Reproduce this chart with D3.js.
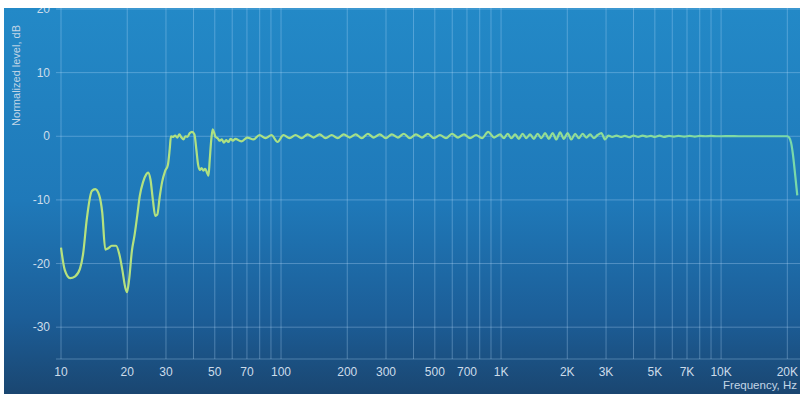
<!DOCTYPE html>
<html>
<head>
<meta charset="utf-8">
<script src="https://cdn.jsdelivr.net/npm/d3@7"></script>
<style>
  html, body { margin: 0; padding: 0; background: #fff; }
  svg { display: block; }
</style>
</head>
<body>
<div id="chart"></div>
<script>
// frequency response (Hz / dB)
const freqs = [
  10, 10.4, 11, 11.6, 12.2, 12.6, 13.1, 13.8, 14.3, 14.9, 15.4, 15.9, 16.4, 17.0, 17.8, 18.4, 19.0, 19.6, 19.95,
  20.4, 21.0, 21.6, 22.2, 22.8, 23.6, 24.4, 24.9, 25.5, 26.2, 26.8, 27.4, 28.1, 28.8, 29.7, 30.6, 31.2, 31.6,
  32.2, 33, 33.8, 34.5, 35.3, 36, 36.8, 37.5, 38.5, 39.4, 40.4, 41.2, 42, 42.8, 43.5, 44.4, 45.2, 46.2, 46.8,
  47.4, 48.2, 48.9, 49.6, 50.4, 51.5, 52.6, 53.8, 55, 56.3, 57.6, 59, 60.4,
  62, 66, 70.3, 74.9, 79.8, 85, 90.5, 96.4, 102.6, 109.3, 116.4, 124, 132, 140.6, 149.8, 159.5, 169.9, 180.9,
  192.7, 205.2, 218.5, 232.7, 247.9, 264, 281, 299.4, 318.8, 339.6, 361.6, 385.1, 410.2, 436.8, 465.2, 495.5,
  527.7, 562, 598.5, 637.4, 678.8, 723, 770, 820, 873, 930, 990,
  1030, 1071, 1114, 1159, 1205, 1253, 1303, 1355, 1410, 1466, 1525, 1586, 1649, 1715, 1784, 1855, 1929, 2006,
  2087, 2170, 2257, 2347, 2441, 2539, 2640, 2746, 2856, 2970,
  3075, 3200, 3350, 3500, 3650, 3820, 4000, 4200, 4400, 4600, 4800, 5000, 5250, 5500, 5800, 6100, 6400, 6800,
  7200, 7600, 8000, 8500, 9000, 9500, 10000, 11000, 12000, 13500, 15000, 17000, 19000, 20000,
  20400, 20800, 21200, 21700, 22200
];
const levels = [
  -17.5, -21, -22.3, -22, -20.8, -18.5, -13, -8.6, -8.3, -9.2, -12, -17.8, -17.6, -17.2, -17.2, -18.5, -21, -23.8, -24.5,
  -22.5, -18, -15.5, -12.5, -9.4, -7.2, -6.0, -5.7, -6.8, -10.2, -12.5, -12.3, -9.5, -7.2, -5.5, -4.5, -2, 0,
  -0.1, 0.1, -0.2, 0.3, -0.2, -0.5, 0, -0.1, 0.5, 0.7, 0.3, -2, -4.5, -5.3, -5, -5.4, -5.1, -5.8, -6.2,
  -3.8, -0.5, 1.1, 0.6, -0.1, -0.3, -0.7, -0.5, -1.0, -0.6, -0.9, -0.4, -0.7,
  -0.4, -0.8, -0.2, -0.5, 0.2, -0.3, 0.2, -0.9, 0.2, -0.3, 0.2, -0.3, 0.3, -0.2, 0.3, -0.3, 0.2, -0.3,
  0.3, -0.2, 0.3, -0.3, 0.4, -0.2, 0.3, -0.3, 0.3, -0.2, 0.4, -0.3, 0.3, -0.2, 0.4, -0.3,
  0.2, -0.3, 0.4, -0.2, 0.3, -0.3, 0.2, -0.3, 0.7, -0.2, 0.3,
  -0.3, 0.4, -0.3, 0.3, -0.4, 0.4, -0.3, 0.3, -0.4, 0.4, -0.3, 0.5, -0.4, 0.5, -0.5, 0.6, -0.4, 0.5,
  -0.5, 0.4, -0.3, 0.4, -0.2, 0.3, -0.3, 0.2, 0.5, -0.5,
  0.1, -0.1, 0.1, -0.1, 0.05, -0.15, 0.1, -0.1, 0.1, -0.05, 0.05, -0.1, 0.1, -0.1, 0.05, -0.05, 0.05, -0.05,
  0.05, -0.05, 0.05, 0, 0.05, 0, 0, 0.02, 0, 0, 0, 0, 0, 0,
  -0.2, -1, -2.8, -6, -9.3
];

const xTicks = [10, 20, 30, 50, 70, 100, 200, 300, 500, 700, 1000, 2000, 3000, 5000, 7000, 10000, 20000];
const xTickLabels = ["10", "20", "30", "50", "70", "100", "200", "300", "500", "700", "1K", "2K", "3K", "5K", "7K", "10K", "20K"];
const xGrid = [10, 20, 30, 40, 50, 60, 70, 80, 90, 100, 200, 300, 400, 500, 600, 700, 800, 900,
  1000, 2000, 3000, 4000, 5000, 6000, 7000, 8000, 9000, 10000, 20000];
const yTicks = [20, 10, 0, -10, -20, -30];

const width = 800, height = 394;

const svg = d3.select("#chart")
  .append("svg")
    .attr("width", width)
    .attr("height", height);

const defs = svg.append("defs");

const bg = defs.append("linearGradient")
    .attr("id", "bg")
    .attr("x1", 0).attr("y1", 0).attr("x2", 0).attr("y2", 1);
bg.append("stop").attr("offset", "0%").attr("stop-color", "#2389c7");
bg.append("stop").attr("offset", "50%").attr("stop-color", "#1f79b9");
bg.append("stop").attr("offset", "80%").attr("stop-color", "#1c5e98");
bg.append("stop").attr("offset", "100%").attr("stop-color", "#1a4671");

const lineGrad = defs.append("linearGradient")
    .attr("id", "lineGrad")
    .attr("gradientUnits", "userSpaceOnUse")
    .attr("x1", 60).attr("y1", 0).attr("x2", 800).attr("y2", 0);
lineGrad.append("stop").attr("offset", "0%").attr("stop-color", "#b8e27c");
lineGrad.append("stop").attr("offset", "55%").attr("stop-color", "#9ddf8c");
lineGrad.append("stop").attr("offset", "100%").attr("stop-color", "#78d8aa");

defs.append("clipPath").attr("id", "frame")
  .append("rect").attr("x", 4).attr("y", 8).attr("width", width - 4).attr("height", height - 8);

svg.append("rect").attr("width", width).attr("height", height).attr("fill", "#fff");

const g = svg.append("g").attr("clip-path", "url(#frame)");

g.append("rect")
    .attr("x", 4).attr("y", 8)
    .attr("width", width - 4).attr("height", height - 8)
    .attr("fill", "url(#bg)");

// scales
const x = d3.scaleLog().domain([10, 22600]).range([61, 799]);
const y = d3.scaleLinear().domain([-35, 20]).range([359, 9]);

// grid
g.append("g")
  .selectAll("line")
  .data(xGrid)
  .join("line")
    .attr("x1", d => x(d)).attr("x2", d => x(d))
    .attr("y1", 8).attr("y2", y(-35))
    .attr("stroke", "rgba(190,225,255,0.32)")
    .attr("stroke-width", 1);

g.append("g")
  .selectAll("line")
  .data(yTicks.concat([-35]))
  .join("line")
    .attr("x1", 56).attr("x2", width)
    .attr("y1", d => y(d)).attr("y2", d => y(d))
    .attr("stroke", "rgba(190,225,255,0.32)")
    .attr("stroke-width", 1);

// tick labels
g.append("g")
  .selectAll("text")
  .data(yTicks)
  .join("text")
    .attr("x", 50)
    .attr("y", d => y(d) + 4)
    .attr("text-anchor", "end")
    .attr("font-family", "Liberation Sans, Arial, sans-serif")
    .attr("font-size", 12)
    .attr("fill", "#cddcea")
    .text(d => d);

g.append("g")
  .selectAll("text")
  .data(xTicks)
  .join("text")
    .attr("x", d => x(d))
    .attr("y", 376)
    .attr("text-anchor", "middle")
    .attr("font-family", "Liberation Sans, Arial, sans-serif")
    .attr("font-size", 12)
    .attr("fill", "#cddcea")
    .text((d, i) => xTickLabels[i]);

g.append("text")
    .attr("transform", "translate(20,25) rotate(-90)")
    .attr("text-anchor", "end")
    .attr("font-family", "Liberation Sans, Arial, sans-serif")
    .attr("font-size", 11)
    .attr("fill", "#c3d6e6")
    .text("Normalized level, dB");

g.append("text")
    .attr("x", 797)
    .attr("y", 389)
    .attr("text-anchor", "end")
    .attr("font-family", "Liberation Sans, Arial, sans-serif")
    .attr("font-size", 11.5)
    .attr("fill", "#c3d6e6")
    .text("Frequency, Hz");

// response curve
const line = d3.line()
  .x((d, i) => x(freqs[i]))
  .y(d => y(d))
  .curve(d3.curveMonotoneX);

g.append("path")
    .datum(levels)
    .attr("d", line)
    .attr("fill", "none")
    .attr("stroke", "url(#lineGrad)")
    .attr("stroke-width", 2.2)
    .attr("stroke-linejoin", "round");
</script>
</body>
</html>
